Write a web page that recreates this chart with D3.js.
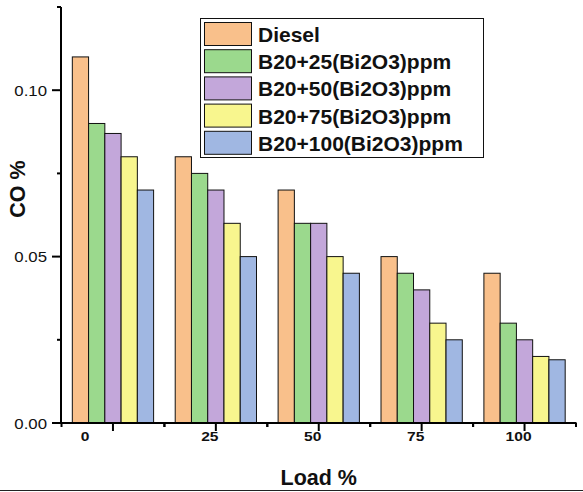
<!DOCTYPE html>
<html lang="en">
<head>
    <meta charset="UTF-8">
    <title>CO % vs Load %</title>
    <script src="https://d3js.org/d3.v7.min.js"></script>
    <style>
        body { margin: 0; background: #fff; font-family: "Liberation Sans", Arial, sans-serif; }
        svg { display: block; }
    </style>
</head>
<body>
    <svg width="583" height="492"></svg>

    <script>
        // data
        const loads = ["0", "25", "50", "75", "100"];
        const seriesNames = ["Diesel", "B20+25(Bi2O3)ppm", "B20+50(Bi2O3)ppm", "B20+75(Bi2O3)ppm", "B20+100(Bi2O3)ppm"];
        const diesel = [0.110, 0.080, 0.070, 0.050, 0.045];
        const b20_25 = [0.090, 0.075, 0.060, 0.045, 0.030];
        const b20_50 = [0.087, 0.070, 0.060, 0.040, 0.025];
        const b20_75 = [0.080, 0.060, 0.050, 0.030, 0.020];
        const b20_100 = [0.070, 0.050, 0.045, 0.025, 0.019];
        const yTicks = [0, 0.025, 0.05, 0.075, 0.10, 0.125];
        const colors = ["#f9c08b", "#9bd98d", "#c3a7da", "#f8f68e", "#a0b7e2"];

        const seriesValues = [diesel, b20_25, b20_50, b20_75, b20_100];
        const rows = [];
        loads.forEach((l, i) => {
            seriesNames.forEach((s, j) => rows.push({ load: l, series: s, value: seriesValues[j][i], k: j }));
        });

        const svg = d3.select("svg");
        const pLeft = 61, pRight = 576.5, pTop = 7, pBottom = 423;

        const x = d3.scaleBand().domain(loads).range([pLeft, pRight])
            .paddingInner(0.21).paddingOuter(0.11);
        const xs = d3.scaleBand().domain(seriesNames).range([0, x.bandwidth()]);
        const y = d3.scaleLinear().domain([0, 0.125]).range([pBottom, pTop]);

        // bars
        svg.append("g").selectAll("rect").data(rows).enter().append("rect")
            .attr("x", d => x(d.load) + xs(d.series))
            .attr("y", d => y(d.value))
            .attr("width", xs.bandwidth())
            .attr("height", d => y(0) - y(d.value))
            .attr("fill", d => colors[d.k])
            .attr("stroke", "#111")
            .attr("stroke-width", 1);

        // y axis
        const ya = svg.append("g");
        ya.append("line").attr("x1", pLeft).attr("x2", pLeft).attr("y1", pTop).attr("y2", pBottom + 1)
            .attr("stroke", "#000").attr("stroke-width", 2);
        yTicks.forEach((t, i) => {
            const major = i % 2 === 0;
            ya.append("line").attr("x1", pLeft - (major ? 9 : 4)).attr("x2", pLeft)
                .attr("y1", y(t)).attr("y2", y(t)).attr("stroke", "#000").attr("stroke-width", 2);
            if (major && t < 0.12) {
                ya.append("g").attr("transform", `translate(47,${y(t) + 5.5})`)
                    .append("text").attr("transform", "scale(1.12,1)")
                    .attr("text-anchor", "end").attr("font-size", 15).attr("fill", "#111")
                    .text(d3.format(".2f")(t));
            }
        });

        // x axis
        const xa = svg.append("g");
        xa.append("line").attr("x1", pLeft - 1).attr("x2", pRight).attr("y1", pBottom).attr("y2", pBottom)
            .attr("stroke", "#000").attr("stroke-width", 2);
        const step = x.step();
        loads.forEach((l, i) => {
            const c = x(l) + x.bandwidth() / 2;
            xa.append("line").attr("x1", c).attr("x2", c).attr("y1", pBottom).attr("y2", pBottom + 8)
                .attr("stroke", "#000").attr("stroke-width", 2);
            [c - step / 2, c + step / 2].forEach(m => {
                xa.append("line").attr("x1", m).attr("x2", m).attr("y1", pBottom).attr("y2", pBottom + 4)
                    .attr("stroke", "#000").attr("stroke-width", 2);
            });
            const nudge = i === 0 ? -28 : -6;
            xa.append("g").attr("transform", `translate(${c + nudge},441)`)
                .append("text").attr("transform", "scale(1.3,1)")
                .attr("text-anchor", "middle").attr("font-size", 12).attr("font-weight", "bold")
                .attr("fill", "#111").text(l);
        });

        // axis titles
        svg.append("text").attr("x", (pLeft + pRight) / 2).attr("y", 485)
            .attr("text-anchor", "middle").attr("font-size", 21.5).attr("font-weight", "bold")
            .attr("fill", "#111").text("Load %");
        svg.append("text").attr("transform", "translate(25,189) rotate(-90)")
            .attr("text-anchor", "middle").attr("font-size", 21.5).attr("font-weight", "bold")
            .attr("fill", "#111").text("CO %");

        // legend
        const lg = svg.append("g");
        lg.append("rect").attr("x", 200.5).attr("y", 18.5).attr("width", 283).attr("height", 139)
            .attr("fill", "#fff").attr("stroke", "#111").attr("stroke-width", 1);
        seriesNames.forEach((s, i) => {
            const yy = 22.5 + i * 27.2;
            lg.append("rect").attr("x", 204.5).attr("y", yy).attr("width", 47).attr("height", 23)
                .attr("fill", colors[i]).attr("stroke", "#111").attr("stroke-width", 1);
            lg.append("text").attr("x", 258).attr("y", yy + 19.5)
                .attr("font-size", 21).attr("font-weight", "bold").attr("fill", "#111").text(s);
        });

        // frame line along the bottom of the picture
        svg.append("line").attr("x1", 0).attr("x2", 583).attr("y1", 490.5).attr("y2", 490.5)
            .attr("stroke", "#222").attr("stroke-width", 1);
    </script>
</body>
</html>
